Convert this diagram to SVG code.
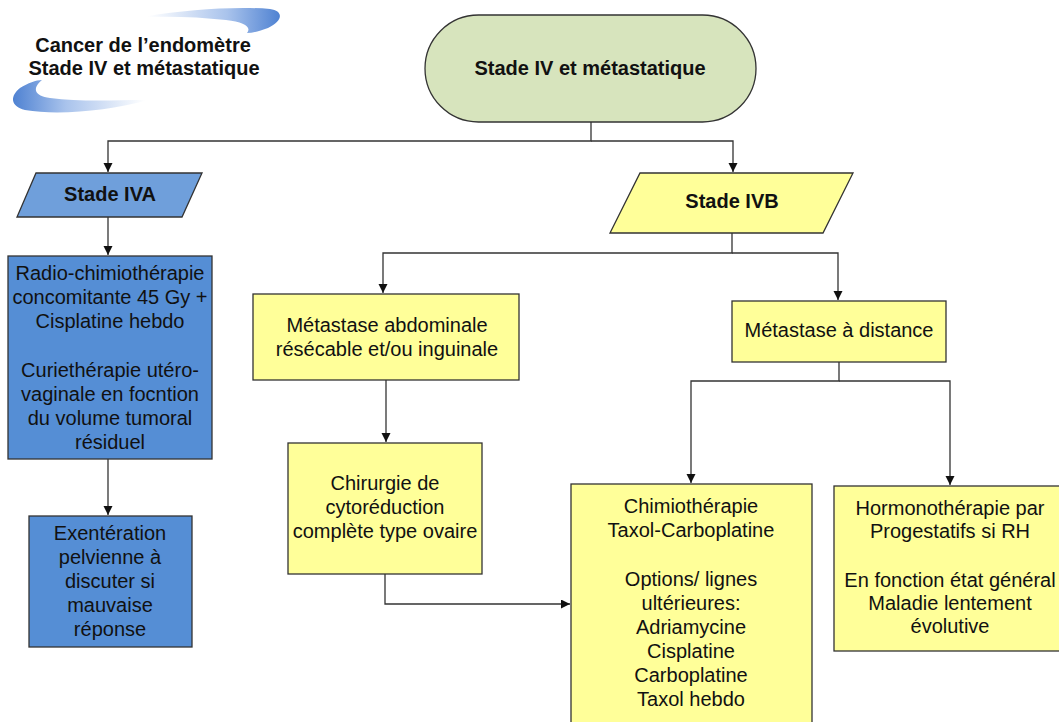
<svg xmlns="http://www.w3.org/2000/svg" width="1059" height="722" viewBox="0 0 1059 722">
<defs>
<style>
.t{font-family:"Liberation Sans",Arial,sans-serif;font-size:20px;fill:#111;text-anchor:middle}
.b{font-weight:bold}
.box{stroke:#333;stroke-width:1.3}
.y{fill:#FFFF99}
.blue{fill:#558ED5}
.con{fill:none;stroke:#333;stroke-width:1.3}
</style>
<marker id="arr" markerUnits="userSpaceOnUse" markerWidth="10" markerHeight="10" refX="9" refY="4.5" orient="auto">
<path d="M0,0 L9,4.5 L0,9 Z" fill="#111"/>
</marker>
<linearGradient id="sw1" x1="0" y1="0" x2="1" y2="0">
<stop offset="0" stop-color="#fff"/>
<stop offset="0.6" stop-color="#A9C3EC"/>
<stop offset="1" stop-color="#4F82D2"/>
</linearGradient>
<linearGradient id="sw2" x1="0" y1="0" x2="1" y2="0">
<stop offset="0" stop-color="#4F82D2"/>
<stop offset="0.4" stop-color="#A9C3EC"/>
<stop offset="1" stop-color="#fff"/>
</linearGradient>
</defs>
<rect width="1059" height="722" fill="#fff"/>

<g id="title">
<path d="M148,16 C185,10 235,6 270,9 C284,11 283,21 268,28 C260,31 253,33 247,33 C252,27 244,22 226,20 C200,17 172,16 148,17 Z" fill="url(#sw1)"/>
<path d="M145,101 C110,110 60,116 25,110 C10,106 10,96 20,88 C28,83 36,80 42,80 C32,88 34,96 50,98 C80,102 115,100 145,100 Z" fill="url(#sw2)"/>
<text class="t b" x="143" y="52">Cancer de l’endomètre</text>
<text class="t b" x="144" y="75">Stade IV et métastatique</text>
</g>

<g id="connectors">
<path class="con" d="M591,122 V141 H108 V172" marker-end="url(#arr)"/>
<path class="con" d="M591,141 H733 V172" marker-end="url(#arr)"/>
<path class="con" d="M108,217 V255" marker-end="url(#arr)"/>
<path class="con" d="M108,459 V515" marker-end="url(#arr)"/>
<path class="con" d="M732,233 V253 H383 V293" marker-end="url(#arr)"/>
<path class="con" d="M732,253 H838 V300" marker-end="url(#arr)"/>
<path class="con" d="M386,380 V442" marker-end="url(#arr)"/>
<path class="con" d="M385,574 V604 H570" marker-end="url(#arr)"/>
<path class="con" d="M839,362 V381 H691 V483" marker-end="url(#arr)"/>
<path class="con" d="M839,381 H950 V485" marker-end="url(#arr)"/>
</g>

<g id="n-root">
<rect class="box" x="425" y="15" width="331" height="107" rx="53.5" fill="#D7E4BD"/>
<text class="t b" x="590" y="75">Stade IV et métastatique</text>
</g>

<g id="n-iva">
<polygon class="box" points="36,173 202,173 182,217 17,217" fill="#6F9FDB"/>
<text class="t b" x="110" y="201">Stade IVA</text>
</g>

<g id="n-radio">
<rect class="box blue" x="8" y="256" width="204" height="203"/>
<text class="t" x="110"><tspan x="110" y="280">Radio-chimiothérapie</tspan><tspan x="110" y="304">concomitante 45 Gy +</tspan><tspan x="110" y="328">Cisplatine hebdo</tspan><tspan x="110" y="377">Curiethérapie utéro-</tspan><tspan x="110" y="401">vaginale en focntion</tspan><tspan x="110" y="425">du volume tumoral</tspan><tspan x="110" y="449">résiduel</tspan></text>
</g>

<g id="n-exent">
<rect class="box blue" x="29" y="516" width="163" height="131"/>
<text class="t"><tspan x="110" y="540">Exentération</tspan><tspan x="110" y="564">pelvienne à</tspan><tspan x="110" y="588">discuter si</tspan><tspan x="110" y="612">mauvaise</tspan><tspan x="110" y="636">réponse</tspan></text>
</g>

<g id="n-ivb">
<polygon class="box" points="640,173 853,173 823,233 610,233" fill="#FFFF99"/>
<text class="t b" x="732" y="208">Stade IVB</text>
</g>

<g id="n-abdo">
<rect class="box y" x="253" y="294" width="266" height="86"/>
<text class="t"><tspan x="387" y="332">Métastase abdominale</tspan><tspan x="387" y="356">résécable et/ou inguinale</tspan></text>
</g>

<g id="n-chir">
<rect class="box y" x="288" y="443" width="194" height="131"/>
<text class="t"><tspan x="385" y="490">Chirurgie de</tspan><tspan x="385" y="514">cytoréduction</tspan><tspan x="385" y="538">complète type ovaire</tspan></text>
</g>

<g id="n-dist">
<rect class="box y" x="732" y="301" width="214" height="61"/>
<text class="t" x="839" y="337">Métastase à distance</text>
</g>

<g id="n-chimio">
<rect class="box y" x="571" y="484" width="241" height="250"/>
<text class="t"><tspan x="691" y="513">Chimiothérapie</tspan><tspan x="691" y="537">Taxol-Carboplatine</tspan><tspan x="691" y="586">Options/ lignes</tspan><tspan x="691" y="610">ultérieures:</tspan><tspan x="691" y="634">Adriamycine</tspan><tspan x="691" y="658">Cisplatine</tspan><tspan x="691" y="682">Carboplatine</tspan><tspan x="691" y="706">Taxol hebdo</tspan></text>
</g>

<g id="n-hormono">
<rect class="box y" x="834" y="486" width="228" height="165"/>
<text class="t"><tspan x="950" y="515">Hormonothérapie par</tspan><tspan x="950" y="538">Progestatifs si RH</tspan><tspan x="950" y="587">En fonction état général</tspan><tspan x="950" y="610">Maladie lentement</tspan><tspan x="950" y="633">évolutive</tspan></text>
</g>
</svg>
